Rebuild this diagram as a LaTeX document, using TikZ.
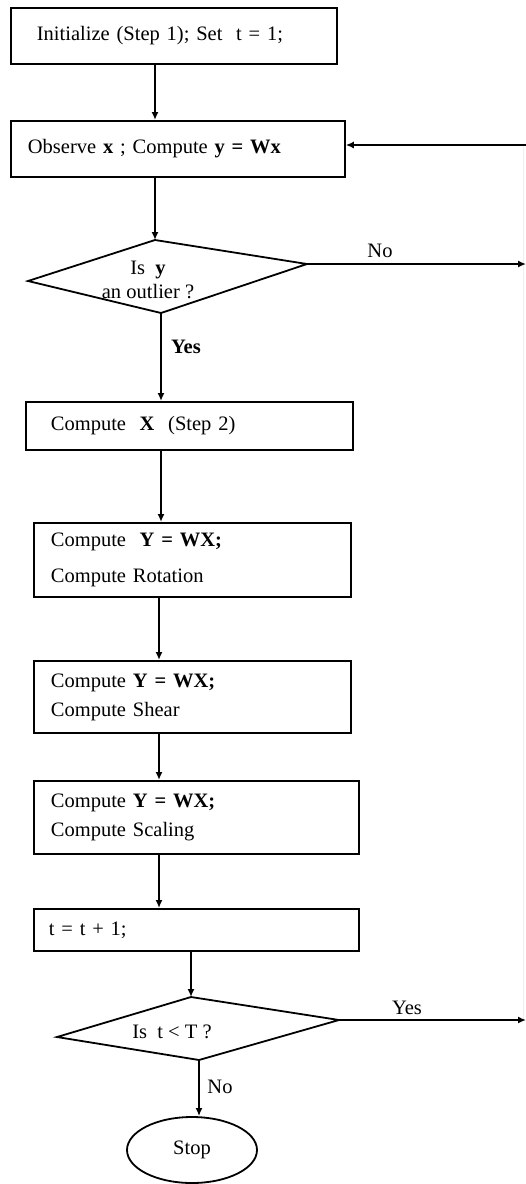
\documentclass[tikz,border=0pt]{standalone}
\usepackage{fontspec}
\setmainfont{Liberation Serif}
\usetikzlibrary{arrows.meta,shapes.geometric,calc}
\begin{document}
\begin{tikzpicture}[x=1pt,y=-1pt,
  txt/.style={font=\fontsize{20.5}{29}\selectfont},
  box/.style={txt, draw, line width=1.8pt, anchor=north west, align=left, inner ysep=0pt},
  arr/.style={line width=1.8pt, -{Latex[length=8pt,width=7pt]}},
  edge/.style={line width=1.8pt},
  lbl/.style={txt, inner sep=0pt},
]
\useasboundingbox (0,0) rectangle (526,1184);
\fill[white] (0,0) rectangle (526,1184);

% boxes
\node[box, minimum height=56pt, inner xsep=26pt, text width=274pt] (b1) at (10,7)
  {Initialize (Step 1); Set~~t = 1;};
\node[box, minimum height=56pt, inner xsep=17pt, text width=300pt] (b2) at (10,120)
  {Observe \textbf{x} ; Compute \textbf{y = Wx}};
\node[box, minimum height=48pt, inner xsep=25pt, text width=277pt] (b3) at (25,401)
  {Compute~~\textbf{X}~~(Step 2)};
\node[box, minimum height=74pt, inner xsep=17pt, text width=283pt] (b4) at (33,522)
  {Compute~~\textbf{Y = WX;}\\[7pt]Compute Rotation};
\node[box, minimum height=72pt, inner xsep=17pt, text width=283pt] (b5) at (33,660)
  {Compute \textbf{Y = WX;}\\Compute Shear};
\node[box, minimum height=73pt, inner xsep=17pt, text width=291pt] (b6) at (33,780)
  {Compute \textbf{Y = WX;}\\Compute Scaling};
\node[box, minimum height=42pt, inner xsep=15pt, text width=295pt] (b7) at (33,908)
  {t = t + 1;};

% decision 1
\coordinate (d1t) at (155,240);
\coordinate (d1r) at (307,264);
\coordinate (d1b) at (161,313);
\coordinate (d1l) at (28,281);
\draw[edge, line join=miter] (d1t) -- (d1r) -- (d1b) -- (d1l) -- cycle;
\node[lbl, align=center] (q1) at (148,280) {Is~~\textbf{y}\\[-5pt]an outlier ?};

% decision 2
\coordinate (d2t) at (191,997);
\coordinate (d2r) at (339,1020);
\coordinate (d2b) at (199,1060);
\coordinate (d2l) at (57,1037);
\draw[edge, line join=miter] (d2t) -- (d2r) -- (d2b) -- (d2l) -- cycle;
\node[lbl] (q2) at (172,1032) {Is~~t < T ?};

% stop
\node[txt, draw, line width=1.8pt, ellipse, minimum width=130pt, minimum height=66pt, inner sep=0pt] (stop) at (192,1150) {Stop};

% column coordinates
\coordinate (c1) at (155,0);
\coordinate (c3) at (161,0);
\coordinate (c5) at (159,0);
\coordinate (c8) at (191,0);
\coordinate (R0) at (526,145);
\coordinate (R1) at (526,264);
\coordinate (R2) at (526,1020);

% loop line (mostly outside the frame)
\draw[gray!12, line width=0.8pt] (523,145) -- (523,1020);

% connectors
\draw[arr] (b1.south -| c1) -- (b2.north -| c1);
\draw[arr] (b2.south -| c1) -- (d1t);
\draw[arr] (d1b) -- (b3.north -| d1b);
\draw[arr] (b3.south -| c3) -- (b4.north -| c3);
\draw[arr] (b4.south -| c5) -- (b5.north -| c5);
\draw[arr] (b5.south -| c5) -- (b6.north -| c5);
\draw[arr] (b6.south -| c5) -- (b7.north -| c5);
\draw[arr] (b7.south -| c8) -- (d2t);
\draw[arr] (d2b) -- (stop.north -| d2b);
\draw[arr] (d1r) -- (R1);
\draw[arr] (d2r) -- (R2);
\draw[arr] (R0) -- (b2.east |- R0);

% labels
\node[lbl] (lno1) at (380,251) {No};
\node[lbl] (lyes1) at (186,347) {\textbf{Yes}};
\node[lbl] (lyes2) at (407,1008) {Yes};
\node[lbl] (lno2) at (220,1087) {No};
\end{tikzpicture}
\end{document}
